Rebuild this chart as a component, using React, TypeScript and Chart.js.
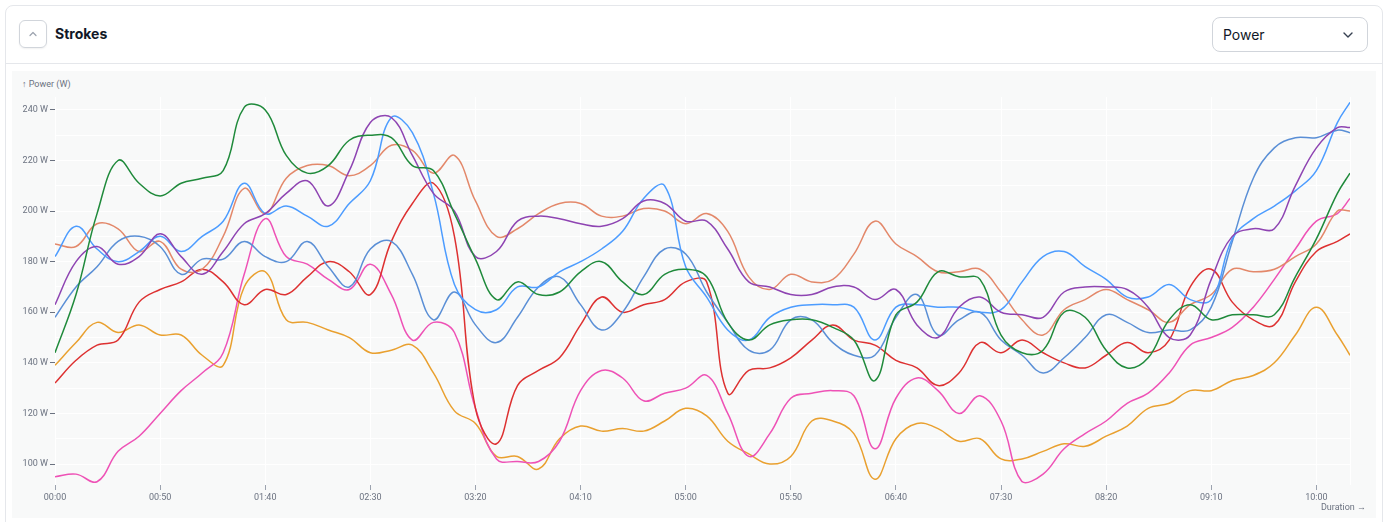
import React, { useEffect, useRef } from "react";
import { Chart, registerables } from "chart.js";

Chart.register(...registerables);

// seconds into the session, one sample every 10 s
const seconds = [
  0, 10, 20, 30, 40, 50, 60, 70, 80, 90,
  100, 110, 120, 130, 140, 150, 160, 170, 180, 190,
  200, 210, 220, 230, 240, 250, 260, 270, 280, 290,
  300, 310, 320, 330, 340, 350, 360, 370, 380, 390,
  400, 410, 420, 430, 440, 450, 460, 470, 480, 490,
  500, 510, 520, 530, 540, 550, 560, 570, 580, 590,
  600, 610, 616,
];

const xTicks = [0, 50, 100, 150, 200, 250, 300, 350, 400, 450, 500, 550, 600];
const yTicks = [100, 110, 120, 130, 140, 150, 160, 170, 180, 190, 200, 210, 220, 230, 240];

const greenPower = [
  144, 167, 199, 220, 211, 206, 211, 213, 216, 241,
  240, 222, 215, 218, 228, 230, 229, 218, 216, 199,
  181, 165, 172, 167, 168, 176, 180, 172, 167, 175,
  177, 174, 156, 149, 155, 157, 157, 154, 149, 133,
  159, 164, 176, 174, 173, 151, 144, 145, 160, 158,
  145, 138, 142, 157, 163, 157, 159, 159, 159, 174,
  189, 207, 215,
];

const purplePower = [
  163, 180, 186, 179, 182, 191, 182, 175, 184, 195,
  199, 207, 212, 202, 216, 235, 237, 222, 207, 200,
  182, 184, 196, 198, 197, 195, 194, 197, 204, 203,
  196, 196, 185, 172, 170, 167, 167, 170, 170, 165,
  169, 155, 150, 162, 166, 160, 159, 158, 168, 170,
  170, 169, 162, 150, 151, 173, 190, 193, 193, 210,
  225, 233, 233,
];

const skyPower = [
  182, 194, 185, 180, 184, 190, 184, 190, 196, 211,
  199, 202, 198, 194, 203, 212, 237, 231, 207, 171,
  161, 161, 170, 170, 176, 180, 185, 192, 205, 210,
  178, 166, 153, 149, 158, 162, 163, 163, 162, 149,
  162, 163, 162, 162, 160, 161, 172, 182, 184, 178,
  173, 166, 166, 171, 165, 165, 189, 197, 202, 208,
  216, 235, 243,
];

const steelPower = [
  158, 170, 178, 188, 190, 186, 175, 181, 181, 188,
  182, 180, 188, 178, 170, 185, 188, 175, 157, 168,
  155, 148, 158, 170, 174, 163, 153, 160, 174, 185,
  183, 168, 156, 145, 145, 157, 157, 148, 143, 143,
  158, 167, 151, 157, 160, 149, 143, 136, 142, 150,
  159, 156, 152, 153, 153, 162, 188, 213, 225, 229,
  229, 232, 231,
];

const salmonPower = [
  187, 186, 195, 193, 184, 188, 177, 177, 190, 209,
  199, 213, 218, 218, 214, 218, 226, 224, 215, 222,
  204, 190, 193, 199, 203, 203, 198, 198, 201, 200,
  195, 199, 192, 174, 169, 175, 172, 173, 183, 196,
  187, 182, 176, 176, 177, 168, 157, 151, 161, 165,
  169, 165, 161, 156, 163, 167, 177, 176, 177, 182,
  187, 200, 200,
];

const redPower = [
  132, 141, 147, 149, 164, 169, 172, 177, 172, 163,
  169, 167, 174, 180, 176, 167, 188, 203, 211, 190,
  122, 108, 131, 137, 142, 155, 166, 160, 163, 165,
  172, 172, 128, 137, 138, 142, 149, 155, 149, 147,
  141, 138, 131, 136, 148, 144, 149, 144, 140, 138,
  143, 148, 144, 149, 170, 177, 164, 157, 155, 172,
  184, 188, 191,
];

const pinkPower = [
  95, 96, 93, 105, 111, 120, 129, 136, 144, 175,
  197, 182, 179, 173, 169, 179, 167, 149, 156, 152,
  122, 102, 101, 101, 109, 129, 137, 134, 125, 128,
  130, 135, 120, 103, 112, 126, 128, 129, 127, 106,
  126, 134, 129, 120, 127, 117, 93, 96, 106, 112,
  117, 124, 128, 136, 147, 150, 154, 162, 173, 185,
  196, 199, 205,
];

const orangePower = [
  139, 148, 156, 152, 155, 151, 151, 143, 139, 170,
  176, 157, 156, 153, 150, 144, 145, 147, 136, 121,
  116, 103, 103, 98, 110, 115, 113, 114, 113, 117,
  122, 119, 109, 104, 100, 103, 117, 117, 112, 94,
  110, 116, 114, 109, 110, 102, 102, 105, 108, 107,
  111, 115, 122, 124, 129, 129, 133, 135, 140, 151,
  162, 151, 143,
];

const strokes = [
  { name: "Stroke 1", color: "#1f8a3b", values: greenPower },
  { name: "Stroke 2", color: "#8e44b2", values: purplePower },
  { name: "Stroke 3", color: "#4c9cff", values: skyPower },
  { name: "Stroke 4", color: "#5a8fd6", values: steelPower },
  { name: "Stroke 5", color: "#e3886a", values: salmonPower },
  { name: "Stroke 6", color: "#dd3131", values: redPower },
  { name: "Stroke 7", color: "#ee52b6", values: pinkPower },
  { name: "Stroke 8", color: "#e9a02f", values: orangePower },
];

const axisColor = "#6b7280";
const axisFont = { family: "Roboto, 'Noto Sans', sans-serif", size: 9 };

const mmss = (v: number) => {
  const m = Math.floor(v / 60);
  const s = v % 60;
  return `${String(m).padStart(2, "0")}:${String(s).padStart(2, "0")}`;
};

// white frame line at the right end of the plot
const rightEdge = {
  id: "rightEdge",
  beforeDatasetsDraw(chart: any) {
    const { ctx, chartArea } = chart;
    ctx.save();
    ctx.strokeStyle = "#ffffff";
    ctx.lineWidth = 1;
    ctx.beginPath();
    ctx.moveTo(chartArea.right + 0.5, chartArea.top);
    ctx.lineTo(chartArea.right + 0.5, chartArea.bottom);
    ctx.stroke();
    ctx.restore();
  },
};

const ChevronUp = () => (
  <svg width="12" height="12" viewBox="0 0 12 12">
    <path d="M3 7.5 L6 4.5 L9 7.5" fill="none" stroke="#9ca3af" strokeWidth="1.2" strokeLinecap="round" strokeLinejoin="round" />
  </svg>
);

const ChevronDown = () => (
  <svg width="14" height="14" viewBox="0 0 14 14">
    <path d="M3 5 L7 9 L11 5" fill="none" stroke="#374151" strokeWidth="1.4" strokeLinecap="round" strokeLinejoin="round" />
  </svg>
);

const StrokesChart = () => {
  const chartRef = useRef<HTMLCanvasElement | null>(null);

  useEffect(() => {
    if (!chartRef.current) return;
    const ctx = chartRef.current.getContext("2d");
    if (!ctx) return;

    const myChart = new Chart(ctx, {
      type: "line",
      data: {
        datasets: strokes.map((s) => ({
          label: s.name,
          data: seconds.map((t, i) => ({ x: t, y: s.values[i] })),
          borderColor: s.color,
          backgroundColor: s.color,
          borderWidth: 1.5,
          pointRadius: 0,
          tension: 0.4,
          fill: false,
        })),
      },
      options: {
        animation: false,
        responsive: false,
        layout: { padding: { top: 26, right: 26, bottom: 0, left: 0 } },
        plugins: {
          legend: { display: false },
          tooltip: { enabled: false },
        },
        scales: {
          x: {
            type: "linear",
            min: 0,
            max: 616,
            afterBuildTicks: (scale: any) => {
              scale.ticks = xTicks.map((v) => ({ value: v }));
            },
            afterFit: (scale: any) => {
              scale.height = 33;
            },
            grid: { color: "#ffffff", tickColor: "#9ca3af", tickLength: 5 },
            border: { display: false },
            ticks: {
              autoSkip: false,
              maxRotation: 0,
              padding: 2,
              color: axisColor,
              font: axisFont,
              callback: (v: any) => mmss(Number(v)),
            },
          },
          y: {
            min: 91.7,
            max: 245.1,
            afterBuildTicks: (scale: any) => {
              scale.ticks = yTicks.map((v) => ({ value: v }));
            },
            afterFit: (scale: any) => {
              scale.width = 43;
            },
            grid: {
              color: "#ffffff",
              tickLength: 5,
              tickColor: (c: any) =>
                c.tick && c.tick.value % 20 === 0 ? "#6b7280" : "rgba(0,0,0,0)",
            },
            border: { display: false },
            ticks: {
              padding: 2,
              color: axisColor,
              font: axisFont,
              callback: (v: any) => (Number(v) % 20 === 0 ? `${v} W` : ""),
            },
          },
        },
      },
      plugins: [rightEdge],
    });

    return () => {
      myChart.destroy();
    };
  }, []);

  return (
    <div
      style={{
        position: "absolute",
        left: 5,
        top: 5,
        width: 1378,
        height: 530,
        background: "#ffffff",
        border: "1px solid #e5e7eb",
        borderRadius: 8,
        fontFamily: "Inter, 'Noto Sans', sans-serif",
        boxSizing: "border-box",
      }}
    >
      <div
        style={{
          height: 57,
          borderBottom: "1px solid #e5e7eb",
          position: "relative",
        }}
      >
        <div
          style={{
            position: "absolute",
            left: 13,
            top: 14,
            width: 28,
            height: 28,
            boxSizing: "border-box",
            border: "1px solid #d1d5db",
            borderRadius: 6,
            display: "flex",
            alignItems: "center",
            justifyContent: "center",
            boxShadow: "0 1px 2px rgba(0,0,0,0.06)",
          }}
        >
          <ChevronUp />
        </div>
        <div
          style={{
            position: "absolute",
            left: 49,
            top: 19,
            fontSize: 14,
            fontWeight: 700,
            color: "#111827",
            lineHeight: "18px",
          }}
        >
          Strokes
        </div>
        <div
          style={{
            position: "absolute",
            left: 1206,
            top: 11,
            width: 156,
            height: 35,
            boxSizing: "border-box",
            border: "1px solid #d1d5db",
            borderRadius: 8,
            display: "flex",
            alignItems: "center",
            justifyContent: "space-between",
            padding: "0 12px 0 10px",
            fontSize: 14,
            color: "#111827",
          }}
        >
          <span>Power</span>
          <ChevronDown />
        </div>
      </div>
      <div
        style={{
          position: "absolute",
          left: 6,
          top: 65,
          width: 1364,
          height: 447,
          background: "#f8f9f9",
        }}
      >
        <div
          style={{
            position: "absolute",
            left: 10,
            top: 8,
            fontSize: 9,
            fontFamily: "Roboto, 'Noto Sans', sans-serif",
            color: axisColor,
            lineHeight: "11px",
          }}
        >
          ↑ Power (W)
        </div>
        <canvas
          ref={chartRef}
          width={1364}
          height={447}
          style={{ position: "absolute", left: 0, top: 0 }}
        />
        <div
          style={{
            position: "absolute",
            right: 10,
            top: 431,
            fontSize: 9,
            fontFamily: "Roboto, 'Noto Sans', sans-serif",
            color: axisColor,
            lineHeight: "11px",
          }}
        >
          Duration →
        </div>
      </div>
    </div>
  );
};

export default function App() {
  return <StrokesChart />;
}
